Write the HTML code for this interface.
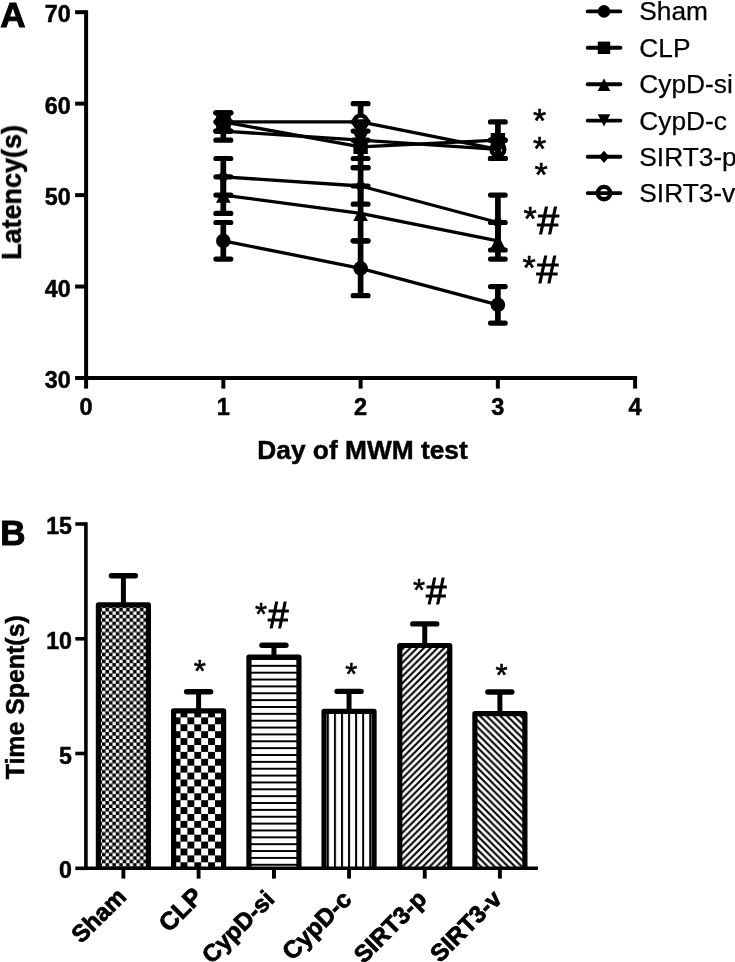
<!DOCTYPE html>
<html><head><meta charset="utf-8"><title>Figure</title>
<style>html,body{margin:0;padding:0;background:#fff;}svg{display:block;}text{font-family:"Liberation Sans",sans-serif;}</style></head>
<body><svg width="735" height="962" viewBox="0 0 735 962">
<rect width="735" height="962" fill="#fff"/>
<g opacity="0.999">
<g stroke="#000" stroke-width="4.0" fill="none" stroke-linecap="butt">
<path d="M86.1 10.200000000000045 V380.0"/>
<path d="M84.1 378.0 H637.1"/>
<path d="M75.1 378.0 H86.1"/>
<path d="M75.1 286.55 H86.1"/>
<path d="M75.1 195.10000000000002 H86.1"/>
<path d="M75.1 103.65000000000003 H86.1"/>
<path d="M75.1 12.200000000000045 H86.1"/>
<path d="M86.1 378.0 V388.6"/>
<path d="M223.35 378.0 V388.6"/>
<path d="M360.6 378.0 V388.6"/>
<path d="M497.85 378.0 V388.6"/>
<path d="M635.1 378.0 V388.6"/>
</g>
<g font-family="Liberation Sans, sans-serif" font-weight="bold" font-size="24px" fill="#000" stroke="#000" stroke-width="0.5">
<text x="70.7" y="388.0" text-anchor="end" font-size="23.3px">30</text>
<text x="70.7" y="296.6" text-anchor="end" font-size="23.3px">40</text>
<text x="70.7" y="205.1" text-anchor="end" font-size="23.3px">50</text>
<text x="70.7" y="113.7" text-anchor="end" font-size="23.3px">60</text>
<text x="70.7" y="22.2" text-anchor="end" font-size="23.3px">70</text>
<text x="86.1" y="414.6" text-anchor="middle" font-size="23.5px">0</text>
<text x="223.3" y="414.6" text-anchor="middle" font-size="23.5px">1</text>
<text x="360.6" y="414.6" text-anchor="middle" font-size="23.5px">2</text>
<text x="497.9" y="414.6" text-anchor="middle" font-size="23.5px">3</text>
<text x="635.1" y="414.6" text-anchor="middle" font-size="23.5px">4</text>
</g>
<g font-family="Liberation Sans, sans-serif" font-weight="bold" fill="#000" stroke="#000" stroke-width="0.5">
<text x="362.5" y="458.6" text-anchor="middle" font-size="26.3px">Day of MWM test</text>
<text transform="translate(21 192.5) rotate(-90)" text-anchor="middle" font-size="27px">Latency(s)</text>
<text transform="translate(24 697.3) rotate(-90)" text-anchor="middle" font-size="24.9px">Time Spent(s)</text>
</g>
<g font-family="Liberation Sans, sans-serif" font-weight="bold" font-size="35px" fill="#000" stroke="#000" stroke-width="1.0">
<text x="0.3" y="27.1">A</text>
<text x="0.2" y="544.9">B</text>
</g>
<g stroke="#000" fill="none">
<path d="M223.3 222.5 V259.1" stroke-width="5.7"/>
<path d="M215.9 222.5 H230.8 M215.9 259.1 H230.8" stroke-width="5.2" stroke-linecap="round"/>
<path d="M360.6 240.8 V295.7" stroke-width="5.7"/>
<path d="M353.2 240.8 H368.0 M353.2 295.7 H368.0" stroke-width="5.2" stroke-linecap="round"/>
<path d="M497.9 286.6 V323.1" stroke-width="5.7"/>
<path d="M490.5 286.6 H505.2 M490.5 323.1 H505.2" stroke-width="5.2" stroke-linecap="round"/>
<path d="M223.3 240.8 L360.6 268.3 L497.9 304.8" stroke-width="3.3" stroke-linejoin="round"/>
</g>
<circle cx="223.3" cy="240.8" r="7.30" fill="#000"/>
<circle cx="360.6" cy="268.3" r="7.30" fill="#000"/>
<circle cx="497.9" cy="304.8" r="7.30" fill="#000"/>
<g stroke="#000" fill="none">
<path d="M223.3 112.8 V131.1" stroke-width="5.7"/>
<path d="M215.9 112.8 H230.8 M215.9 131.1 H230.8" stroke-width="5.2" stroke-linecap="round"/>
<path d="M360.6 131.1 V167.7" stroke-width="5.7"/>
<path d="M353.2 131.1 H368.0 M353.2 167.7 H368.0" stroke-width="5.2" stroke-linecap="round"/>
<path d="M497.9 121.9 V158.5" stroke-width="5.7"/>
<path d="M490.5 121.9 H505.2 M490.5 158.5 H505.2" stroke-width="5.2" stroke-linecap="round"/>
<path d="M223.3 121.9 L360.6 146.8 L497.9 140.2" stroke-width="3.3" stroke-linejoin="round"/>
</g>
<rect x="216.2" y="114.7" width="14.4" height="14.4" fill="#000"/>
<rect x="353.4" y="139.6" width="14.4" height="14.4" fill="#000"/>
<rect x="490.7" y="133.0" width="14.4" height="14.4" fill="#000"/>
<g stroke="#000" fill="none">
<path d="M223.3 176.8 V213.4" stroke-width="5.7"/>
<path d="M215.9 176.8 H230.8 M215.9 213.4 H230.8" stroke-width="5.2" stroke-linecap="round"/>
<path d="M360.6 186.0 V240.8" stroke-width="5.7"/>
<path d="M353.2 186.0 H368.0 M353.2 240.8 H368.0" stroke-width="5.2" stroke-linecap="round"/>
<path d="M497.9 222.5 V259.1" stroke-width="5.7"/>
<path d="M490.5 222.5 H505.2 M490.5 259.1 H505.2" stroke-width="5.2" stroke-linecap="round"/>
<path d="M223.3 195.1 L360.6 213.4 L497.9 240.8" stroke-width="3.3" stroke-linejoin="round"/>
</g>
<path d="M223.3 188.8 L230.7 202.7 L216.0 202.7Z" fill="#000"/>
<path d="M360.6 207.1 L367.9 221.0 L353.3 221.0Z" fill="#000"/>
<path d="M497.9 234.5 L505.2 248.4 L490.6 248.4Z" fill="#000"/>
<g stroke="#000" fill="none">
<path d="M223.3 121.9 V140.2" stroke-width="5.7"/>
<path d="M215.9 121.9 H230.8 M215.9 140.2 H230.8" stroke-width="5.2" stroke-linecap="round"/>
<path d="M360.6 121.9 V158.5" stroke-width="5.7"/>
<path d="M353.2 121.9 H368.0 M353.2 158.5 H368.0" stroke-width="5.2" stroke-linecap="round"/>
<path d="M497.9 140.2 V158.5" stroke-width="5.7"/>
<path d="M490.5 140.2 H505.2 M490.5 158.5 H505.2" stroke-width="5.2" stroke-linecap="round"/>
<path d="M223.3 131.1 L360.6 140.2 L497.9 149.4" stroke-width="3.3" stroke-linejoin="round"/>
</g>
<path d="M223.3 137.6 L230.7 123.9 L216.0 123.9Z" fill="#000"/>
<path d="M360.6 146.7 L367.9 133.0 L353.3 133.0Z" fill="#000"/>
<path d="M497.9 155.9 L505.2 142.2 L490.6 142.2Z" fill="#000"/>
<g stroke="#000" fill="none">
<path d="M223.3 158.5 V195.1" stroke-width="5.7"/>
<path d="M215.9 158.5 H230.8 M215.9 195.1 H230.8" stroke-width="5.2" stroke-linecap="round"/>
<path d="M360.6 167.7 V204.2" stroke-width="5.7"/>
<path d="M353.2 167.7 H368.0 M353.2 204.2 H368.0" stroke-width="5.2" stroke-linecap="round"/>
<path d="M497.9 195.1 V250.0" stroke-width="5.7"/>
<path d="M490.5 195.1 H505.2 M490.5 250.0 H505.2" stroke-width="5.2" stroke-linecap="round"/>
<path d="M223.3 176.8 L360.6 186.0 L497.9 222.5" stroke-width="3.3" stroke-linejoin="round"/>
</g>
<path d="M223.3 169.7 L229.5 176.8 L223.3 183.9 L217.2 176.8Z" fill="#000"/>
<path d="M360.6 178.9 L366.8 186.0 L360.6 193.1 L354.4 186.0Z" fill="#000"/>
<path d="M497.9 215.4 L504.1 222.5 L497.9 229.6 L491.7 222.5Z" fill="#000"/>
<g stroke="#000" fill="none">
<path d="M223.3 112.8 V114.9 M223.3 128.9 V131.1" stroke-width="5.7"/>
<path d="M215.9 112.8 H230.8 M215.9 131.1 H230.8" stroke-width="5.2" stroke-linecap="round"/>
<path d="M360.6 103.7 V114.9 M360.6 128.9 V140.2" stroke-width="5.7"/>
<path d="M353.2 103.7 H368.0 M353.2 140.2 H368.0" stroke-width="5.2" stroke-linecap="round"/>
<path d="M497.9 140.2 V142.4 M497.9 156.4 V158.5" stroke-width="5.7"/>
<path d="M490.5 140.2 H505.2 M490.5 158.5 H505.2" stroke-width="5.2" stroke-linecap="round"/>
<path d="M223.3 121.9 L360.6 121.9 L497.9 149.4" stroke-width="3.3" stroke-linejoin="round"/>
</g>
<circle cx="223.3" cy="121.9" r="6.40" fill="none" stroke="#000" stroke-width="4.4"/>
<circle cx="360.6" cy="121.9" r="6.40" fill="none" stroke="#000" stroke-width="4.4"/>
<circle cx="497.9" cy="149.4" r="6.40" fill="none" stroke="#000" stroke-width="4.4"/>
<g font-family="Liberation Sans, sans-serif" font-size="26.3px" fill="#000">
<path d="M587.7 11.4 H620.4" stroke="#000" stroke-width="3.9" stroke-linecap="round"/>
<circle cx="604.0" cy="11.4" r="6.28" fill="#000"/>
<text x="639.3" y="20.3" stroke="#000" stroke-width="0.25">Sham</text>
<path d="M587.7 47.8 H620.4" stroke="#000" stroke-width="3.9" stroke-linecap="round"/>
<rect x="597.8" y="41.6" width="12.4" height="12.4" fill="#000"/>
<text x="639.3" y="56.7" stroke="#000" stroke-width="0.25">CLP</text>
<path d="M587.7 84.2 H620.4" stroke="#000" stroke-width="3.9" stroke-linecap="round"/>
<path d="M604.0 78.3 L610.3 91.1 L597.7 91.1Z" fill="#000"/>
<text x="639.3" y="93.1" stroke="#000" stroke-width="0.25">CypD-si</text>
<path d="M587.7 120.6 H620.4" stroke="#000" stroke-width="3.9" stroke-linecap="round"/>
<path d="M604.0 126.6 L610.3 114.3 L597.7 114.3Z" fill="#000"/>
<text x="639.3" y="129.5" stroke="#000" stroke-width="0.25">CypD-c</text>
<path d="M587.7 156.8 H620.4" stroke="#000" stroke-width="3.9" stroke-linecap="round"/>
<path d="M604.0 150.7 L609.3 156.8 L604.0 162.9 L598.7 156.8Z" fill="#000"/>
<text x="639.3" y="165.7" stroke="#000" stroke-width="0.25">SIRT3-p</text>
<path d="M587.7 193.1 H620.4" stroke="#000" stroke-width="3.9" stroke-linecap="round"/>
<circle cx="604.0" cy="193.1" r="6.21" fill="none" stroke="#000" stroke-width="4.4"/>
<text x="639.3" y="202.0" stroke="#000" stroke-width="0.25">SIRT3-v</text>
</g>
<g font-family="Liberation Sans, sans-serif" fill="#000" stroke="#000">
<text x="533.0" y="132.0" font-size="34px" stroke-width="0.6">*</text>
<text x="533.0" y="160.2" font-size="34px" stroke-width="0.6">*</text>
<text x="534.4" y="186.3" font-size="34px" stroke-width="0.6">*</text>
<text x="523.5" y="230.3" font-size="34px" stroke-width="0.6">*</text>
<text x="537.3" y="234.3" font-size="39.2px" stroke-width="1.1">#</text>
<text x="522.4" y="279.2" font-size="34px" stroke-width="0.6">*</text>
<text x="536.5" y="282.8" font-size="39.2px" stroke-width="1.1">#</text>
</g>
<defs>
<pattern id="p1" width="6.9" height="6.9" patternUnits="userSpaceOnUse" x="102.0" y="607.9"><rect width="6.9" height="6.9" fill="#000"/><rect x="0.1" y="0.1" width="3.3" height="3.3" fill="#fff"/><rect x="3.5500000000000003" y="3.5500000000000003" width="3.3" height="3.3" fill="#fff"/></pattern>
<pattern id="p2" width="13.8" height="13.8" patternUnits="userSpaceOnUse" x="166.7" y="703.6"><rect width="13.8" height="13.8" fill="#fff"/><rect x="6.9" width="6.9" height="6.9" fill="#000"/><rect y="6.9" width="6.9" height="6.9" fill="#000"/></pattern>
<pattern id="p3" width="6.86" height="6.86" patternUnits="userSpaceOnUse" y="596.25"><rect width="6.86" height="6.86" fill="#fff"/><rect width="6.86" height="1.95" fill="#000"/></pattern>
<pattern id="p4" width="7.05" height="7.05" patternUnits="userSpaceOnUse" x="319.9"><rect width="7.05" height="7.05" fill="#fff"/><rect width="1.9" height="7.05" fill="#000"/></pattern>
<pattern id="p5" width="6.8" height="6.8" patternUnits="userSpaceOnUse" x="4.3" y="0"><rect width="6.8" height="6.8" fill="#fff"/><path d="M-1.7 1.7 L1.7 -1.7 M-1.7 8.5 L8.5 -1.7 M5.1 8.5 L8.5 5.1" stroke="#000" stroke-width="2.1"/></pattern>
<pattern id="p6" width="6.8" height="6.8" patternUnits="userSpaceOnUse" x="0" y="4.8"><rect width="6.8" height="6.8" fill="#fff"/><path d="M-1.7 5.1 L1.7 8.5 M-1.7 -1.7 L8.5 8.5 M5.1 -1.7 L8.5 1.7" stroke="#000" stroke-width="2.1"/></pattern>
</defs>
<path d="M123.4 575.7 V604.9" stroke="#000" stroke-width="5"/>
<path d="M111.4 575.7 H135.4" stroke="#000" stroke-width="5.4" stroke-linecap="round"/>
<rect x="98.40" y="604.9" width="50.0" height="263.4" fill="url(#p1)"/>
<path d="M98.40 868.3 V604.9 H148.40 V868.3" fill="none" stroke="#000" stroke-width="5.2" stroke-linejoin="round"/>
<path d="M198.6 691.8 V710.9" stroke="#000" stroke-width="5"/>
<path d="M186.6 691.8 H210.6" stroke="#000" stroke-width="5.4" stroke-linecap="round"/>
<rect x="173.60" y="710.9" width="50.0" height="157.4" fill="url(#p2)"/>
<path d="M173.60 868.3 V710.9 H223.60 V868.3" fill="none" stroke="#000" stroke-width="5.2" stroke-linejoin="round"/>
<path d="M273.95 645.2 V657.2" stroke="#000" stroke-width="5"/>
<path d="M261.95 645.2 H285.95" stroke="#000" stroke-width="5.4" stroke-linecap="round"/>
<rect x="248.95" y="657.2" width="50.0" height="211.1" fill="url(#p3)"/>
<path d="M248.95 868.3 V657.2 H298.95 V868.3" fill="none" stroke="#000" stroke-width="5.2" stroke-linejoin="round"/>
<path d="M349.05 691.4 V711.3" stroke="#000" stroke-width="5"/>
<path d="M337.05 691.4 H361.05" stroke="#000" stroke-width="5.4" stroke-linecap="round"/>
<rect x="324.05" y="711.3" width="50.0" height="157.0" fill="url(#p4)"/>
<path d="M324.05 868.3 V711.3 H374.05 V868.3" fill="none" stroke="#000" stroke-width="5.2" stroke-linejoin="round"/>
<path d="M424.75 623.9 V645.5" stroke="#000" stroke-width="5"/>
<path d="M412.75 623.9 H436.75" stroke="#000" stroke-width="5.4" stroke-linecap="round"/>
<rect x="399.75" y="645.5" width="50.0" height="222.8" fill="url(#p5)"/>
<path d="M399.75 868.3 V645.5 H449.75 V868.3" fill="none" stroke="#000" stroke-width="5.2" stroke-linejoin="round"/>
<path d="M499.9 692.0 V713.6" stroke="#000" stroke-width="5"/>
<path d="M487.9 692.0 H511.9" stroke="#000" stroke-width="5.4" stroke-linecap="round"/>
<rect x="474.90" y="713.6" width="50.0" height="154.7" fill="url(#p6)"/>
<path d="M474.90 868.3 V713.6 H524.90 V868.3" fill="none" stroke="#000" stroke-width="5.2" stroke-linejoin="round"/>
<g stroke="#000" stroke-width="3.6" fill="none">
<path d="M85.9 522.25 V870.0999999999999"/>
<path d="M84.10000000000001 868.3 H538"/>
<path d="M75.3 868.3 H86"/>
<path d="M75.3 753.5 H86"/>
<path d="M75.3 638.8 H86"/>
<path d="M75.3 524.0 H86"/>
<path d="M123.4 868.3 V878.5999999999999" stroke-width="3.9"/>
<path d="M198.6 868.3 V878.5999999999999" stroke-width="3.9"/>
<path d="M273.95 868.3 V878.5999999999999" stroke-width="3.9"/>
<path d="M349.05 868.3 V878.5999999999999" stroke-width="3.9"/>
<path d="M424.75 868.3 V878.5999999999999" stroke-width="3.9"/>
<path d="M499.9 868.3 V878.5999999999999" stroke-width="3.9"/>
</g>
<g font-family="Liberation Sans, sans-serif" font-weight="bold" font-size="24px" fill="#000" stroke="#000" stroke-width="0.5">
<text x="72" y="878.3" text-anchor="end" font-size="23.2px">0</text>
<text x="72" y="763.5" text-anchor="end" font-size="23.2px">5</text>
<text x="72" y="648.8" text-anchor="end" font-size="23.2px">10</text>
<text x="72" y="534.0" text-anchor="end" font-size="23.2px">15</text>
<text transform="translate(127.50 898.10) rotate(-45)" text-anchor="end" font-size="24px" stroke-width="0.8">Sham</text>
<text transform="translate(204.30 898.00) rotate(-45)" text-anchor="end" font-size="25px" stroke-width="0.8">CLP</text>
<text transform="translate(275.80 900.50) rotate(-45)" text-anchor="end" font-size="24px" stroke-width="0.8">CypD-si</text>
<text transform="translate(352.80 900.75) rotate(-45)" text-anchor="end" font-size="24.5px" stroke-width="0.8">CypD-c</text>
<text transform="translate(427.85 900.50) rotate(-45)" text-anchor="end" font-size="24px" stroke-width="0.8">SIRT3-p</text>
<text transform="translate(503.15 900.20) rotate(-45)" text-anchor="end" font-size="24px" stroke-width="0.8">SIRT3-v</text>
</g>
<g font-family="Liberation Sans, sans-serif" fill="#000" stroke="#000">
<text x="193.7" y="681.8" font-size="31px" stroke-width="0.6">*</text>
<text x="255.0" y="624.7" font-size="31px" stroke-width="0.6">*</text>
<text x="267.9" y="627.6" font-size="36.8px" stroke-width="1.1">#</text>
<text x="345.2" y="684.7" font-size="31px" stroke-width="0.6">*</text>
<text x="413.0" y="601.2" font-size="31px" stroke-width="0.6">*</text>
<text x="425.9" y="604.4" font-size="36.8px" stroke-width="1.1">#</text>
<text x="495.5" y="686.3" font-size="31px" stroke-width="0.6">*</text>
</g>
</g>
</svg></body></html>
